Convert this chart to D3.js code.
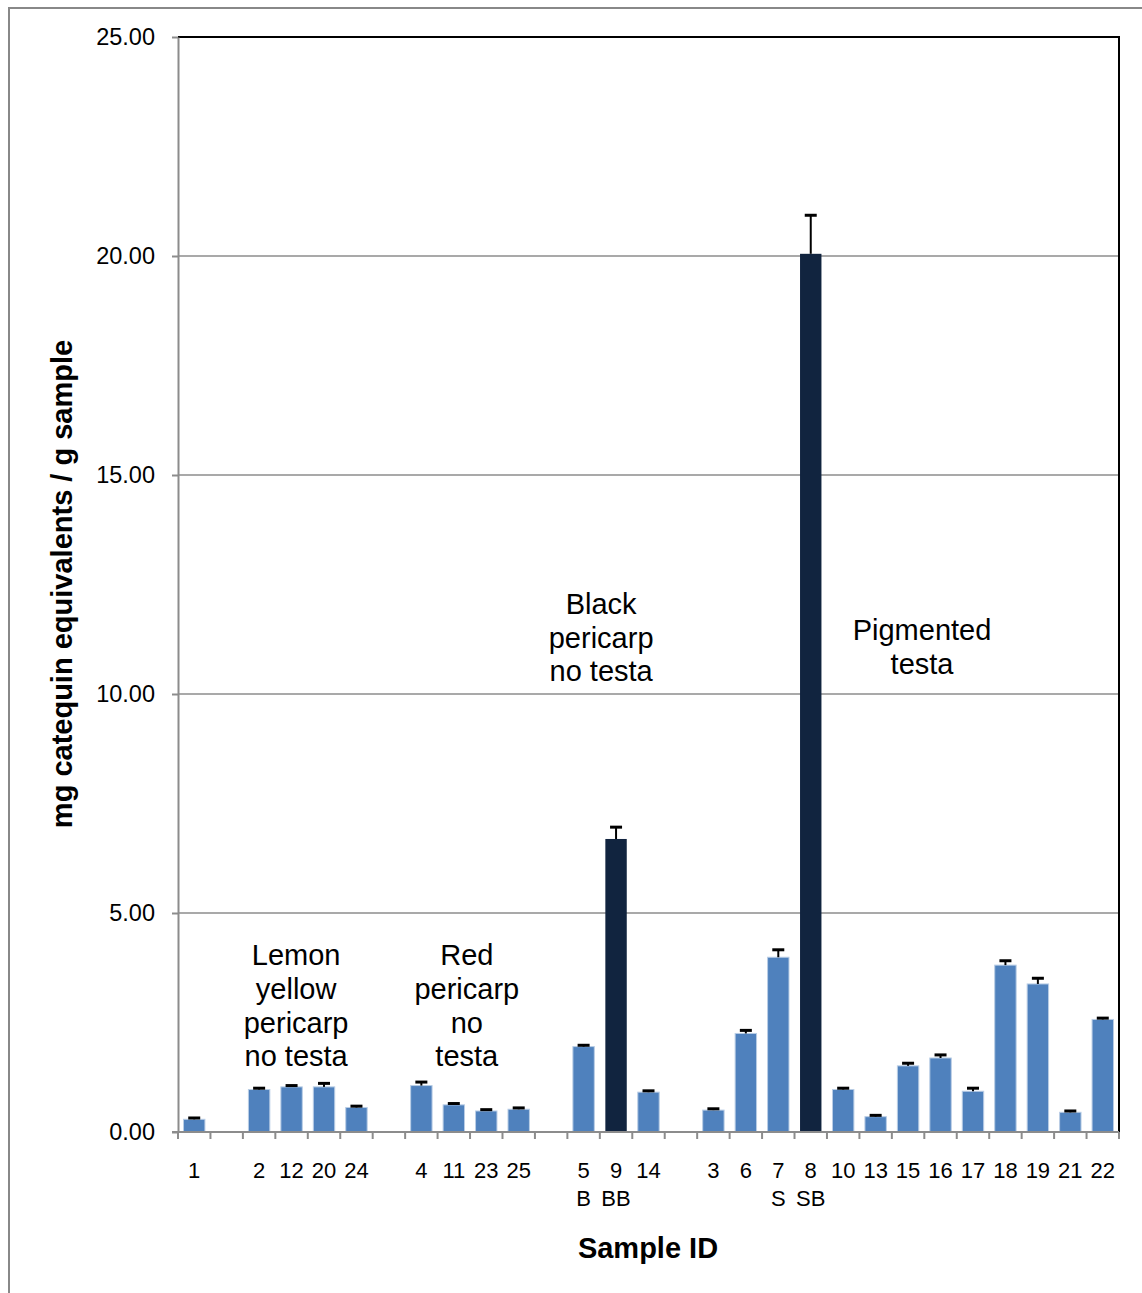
<!DOCTYPE html>
<html>
<head>
<meta charset="utf-8">
<script src="https://cdn.jsdelivr.net/npm/d3@7"></script>
<style>
  body { margin: 0; background: #fff; }
  svg { display: block; font-family: "Liberation Sans", Arial, sans-serif; }
</style>
</head>
<body>
<div id="chart"></div>
<script>
// slots along the x axis ("" = empty gap slot)
const sampleIds = ["1", "", "2", "12", "20", "24", "", "4", "11", "23", "25", "", "5", "9", "14", "",
                   "3", "6", "7", "8", "10", "13", "15", "16", "17", "18", "19", "21", "22"];
const subLabels = ["", "", "", "", "", "", "", "", "", "", "", "", "B", "BB", "", "",
                   "", "", "S", "SB", "", "", "", "", "", "", "", "", ""];
const values =    [0.29, null, 0.97, 1.03, 1.03, 0.56, null, 1.06, 0.62, 0.48, 0.52, null, 1.95, 6.69, 0.91, null,
                   0.50, 2.25, 3.99, 20.05, 0.97, 0.35, 1.51, 1.69, 0.93, 3.81, 3.38, 0.45, 2.57];
const errors =    [0.03, null, 0.03, 0.03, 0.08, 0.03, null, 0.08, 0.03, 0.03, 0.03, null, 0.03, 0.27, 0.03, null,
                   0.03, 0.07, 0.17, 0.88, 0.03, 0.03, 0.06, 0.07, 0.07, 0.10, 0.13, 0.03, 0.03];
const darkBars = ["9", "8"];
const yTicks = [0, 5, 10, 15, 20, 25];
// notes: position in slot units along x, value of first baseline on y
const groupNotes = [
  { lines: ["Lemon", "yellow", "pericarp", "no testa"], slot: 3.64, value: 3.81 },
  { lines: ["Red", "pericarp", "no", "testa"], slot: 8.9, value: 3.81 },
  { lines: ["Black", "pericarp", "no testa"], slot: 13.04, value: 11.83 },
  { lines: ["Pigmented", "testa"], slot: 22.93, value: 11.23 }
];

const W = 1142, H = 1293;
const margin = { top: 37, right: 23, bottom: 161, left: 178 };
const width = W - margin.left - margin.right;
const height = H - margin.top - margin.bottom;

const slots = sampleIds.map((id, i) => ({
  key: "s" + i, id: id, sub: subLabels[i], value: values[i], err: errors[i]
}));

const x = d3.scaleBand()
  .domain(slots.map(d => d.key))
  .range([0, width])
  .padding(0);

const y = d3.scaleLinear()
  .domain([0, 25])
  .range([height, 0]);

const svg = d3.select("#chart").append("svg")
  .attr("width", W)
  .attr("height", H);

// outer frame (left + top only visible)
svg.append("line").attr("x1", 9).attr("x2", 9).attr("y1", 8).attr("y2", H).attr("stroke", "#888").attr("stroke-width", 2);
svg.append("line").attr("x1", 8).attr("x2", W).attr("y1", 8).attr("y2", 8).attr("stroke", "#888").attr("stroke-width", 2);

const g = svg.append("g").attr("transform", "translate(" + margin.left + "," + margin.top + ")");

// gridlines
g.append("g").selectAll("line")
  .data(yTicks.filter(t => t > 0 && t < 25))
  .join("line")
  .attr("x1", 0).attr("x2", width)
  .attr("y1", d => y(d)).attr("y2", d => y(d))
  .attr("stroke", "#8c8c8c")
  .attr("stroke-width", 1.5);

// top and right border
g.append("path")
  .attr("d", "M0," + y(25) + "H" + width + "V" + height)
  .attr("fill", "none")
  .attr("stroke", "#000")
  .attr("stroke-width", 2);

// y axis
const yAxis = d3.axisLeft(y)
  .tickValues(yTicks)
  .tickFormat(d3.format(".2f"))
  .tickSize(6)
  .tickSizeOuter(0);

const ya = g.append("g").call(yAxis);
ya.select(".domain").attr("stroke", "#8c8c8c").attr("stroke-width", 2);
ya.selectAll(".tick line").attr("stroke", "#8c8c8c").attr("stroke-width", 2);
ya.selectAll(".tick text")
  .attr("x", -23)
  .attr("font-size", 23.5)
  .attr("font-family", "Liberation Sans, Arial, sans-serif")
  .attr("fill", "#000");

// bars
const data = slots.filter(d => d.value != null);
const barW = x.bandwidth() * 0.66;

g.append("g").selectAll("rect")
  .data(data)
  .join("rect")
  .attr("x", d => x(d.key) + (x.bandwidth() - barW) / 2)
  .attr("width", barW)
  .attr("y", d => y(d.value))
  .attr("height", d => y(0) - y(d.value))
  .attr("fill", d => darkBars.includes(d.id) ? "#11243F" : "#4F81BD")
  .attr("stroke", d => darkBars.includes(d.id) ? "none" : "#B9CDE5")
  .attr("stroke-width", 1);

// error bars (upper half visible)
const eb = g.append("g").selectAll("g")
  .data(data)
  .join("g")
  .attr("transform", d => "translate(" + (x(d.key) + x.bandwidth() / 2) + ",0)");

eb.append("line")
  .attr("x1", 0).attr("x2", 0)
  .attr("y1", d => y(d.value))
  .attr("y2", d => y(d.value + d.err))
  .attr("stroke", "#000")
  .attr("stroke-width", 2);

eb.append("line")
  .attr("x1", -6).attr("x2", 6)
  .attr("y1", d => y(d.value + d.err))
  .attr("y2", d => y(d.value + d.err))
  .attr("stroke", "#000")
  .attr("stroke-width", 3);

// x axis: ticks on slot boundaries
const xa = g.append("g").attr("transform", "translate(0," + height + ")");
xa.append("line")
  .attr("x1", -6).attr("x2", width)
  .attr("stroke", "#8c8c8c").attr("stroke-width", 2);
xa.selectAll("line.tick")
  .data(slots.map(d => x(d.key)).concat([width]))
  .join("line")
  .attr("class", "tick")
  .attr("x1", d => d).attr("x2", d => d)
  .attr("y1", 0).attr("y2", 7)
  .attr("stroke", "#8c8c8c").attr("stroke-width", 2);

xa.selectAll("text.id")
  .data(slots)
  .join("text")
  .attr("class", "id")
  .attr("x", d => x(d.key) + x.bandwidth() / 2)
  .attr("y", 46)
  .attr("text-anchor", "middle")
  .attr("font-size", 22)
  .text(d => d.id);

xa.selectAll("text.sub")
  .data(slots.filter(d => d.sub))
  .join("text")
  .attr("class", "sub")
  .attr("x", d => x(d.key) + x.bandwidth() / 2)
  .attr("y", 74)
  .attr("text-anchor", "middle")
  .attr("font-size", 22)
  .text(d => d.sub);

// group notes
groupNotes.forEach(n => {
  const cx = x.step() * n.slot;
  const t = g.append("text")
    .attr("x", cx)
    .attr("y", y(n.value))
    .attr("text-anchor", "middle")
    .attr("font-size", 29);
  n.lines.forEach((l, i) => {
    t.append("tspan").attr("x", cx).attr("dy", i === 0 ? 0 : 33.7).text(l);
  });
});

// axis titles
svg.append("text")
  .attr("x", 648)
  .attr("y", 1258)
  .attr("text-anchor", "middle")
  .attr("font-size", 29)
  .attr("font-weight", "bold")
  .text("Sample ID");

svg.append("text")
  .attr("transform", "translate(72," + 584 + ") rotate(-90)")
  .attr("text-anchor", "middle")
  .attr("font-size", 29)
  .attr("font-weight", "bold")
  .text("mg catequin equivalents / g sample");
</script>
</body>
</html>
